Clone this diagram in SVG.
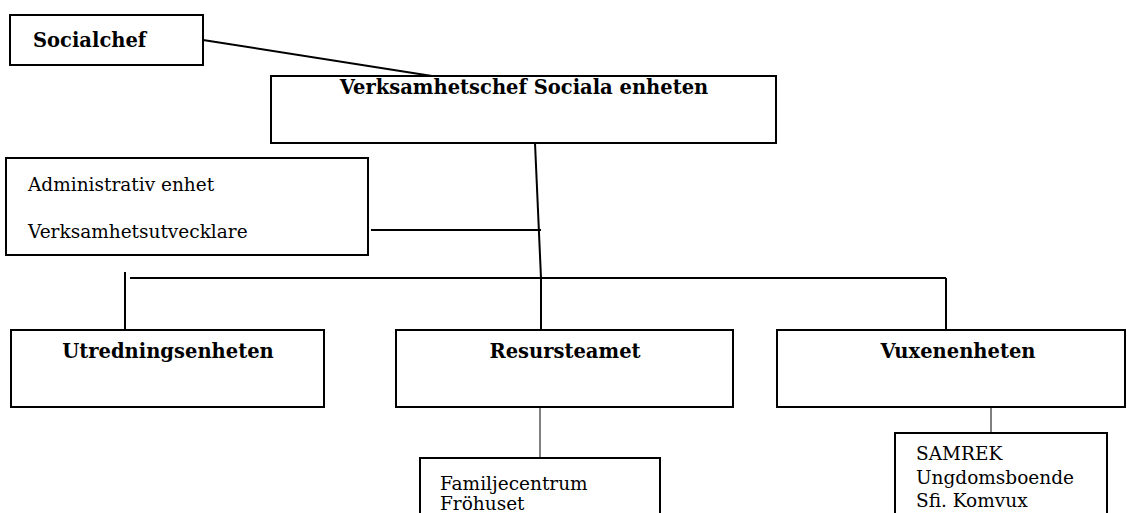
<svg xmlns="http://www.w3.org/2000/svg" width="1127" height="513" viewBox="0 0 1127 513">
<style>
.box{fill:#fff;stroke:#000;stroke-width:2}
.ln{stroke:#000;stroke-width:2;fill:none}
.thin{stroke:#000;stroke-width:1;fill:none}
.b{font-family:"DejaVu Serif","Liberation Serif",serif;font-weight:bold;font-size:19.5px;fill:#000}
.t{font-family:"DejaVu Serif","Liberation Serif",serif;font-size:18.5px;fill:#000}
</style>
<rect width="1127" height="513" fill="#fff"/>
<g id="connectors">
<line class="ln" x1="203" y1="40" x2="432" y2="76"/>
<line class="ln" x1="535" y1="143" x2="541" y2="278"/>
<line class="ln" x1="371" y1="230" x2="541" y2="230"/>
<line class="ln" x1="130" y1="278" x2="946" y2="278"/>
<line class="ln" x1="125" y1="272" x2="125" y2="330"/>
<line class="ln" x1="541" y1="278" x2="541" y2="330"/>
<line class="ln" x1="946" y1="278" x2="946" y2="330"/>
<line class="thin" x1="540" y1="407" x2="540" y2="458"/>
<line class="thin" x1="991" y1="407" x2="991" y2="433"/>
</g>
<g id="socialchef">
<rect class="box" x="10" y="15" width="193" height="50"/>
<text class="b" x="33" y="47">Socialchef</text>
</g>
<g id="verksamhetschef">
<rect class="box" x="271" y="76" width="505" height="67"/>
<text class="b" x="524" y="94" text-anchor="middle">Verksamhetschef Sociala enheten</text>
</g>
<g id="admin">
<rect class="box" x="6" y="158" width="362" height="97"/>
<text class="t" x="28" y="191">Administrativ enhet</text>
<text class="t" x="28" y="238">Verksamhetsutvecklare</text>
</g>
<g id="utredning">
<rect class="box" x="11" y="330" width="313" height="77"/>
<text class="b" x="168" y="358" text-anchor="middle">Utredningsenheten</text>
</g>
<g id="resurs">
<rect class="box" x="396" y="330" width="337" height="77"/>
<text class="b" x="565" y="358" text-anchor="middle">Resursteamet</text>
</g>
<g id="vuxen">
<rect class="box" x="777" y="330" width="348" height="77"/>
<text class="b" x="958" y="358" text-anchor="middle">Vuxenenheten</text>
</g>
<g id="familjecentrum">
<rect class="box" x="420" y="458" width="240" height="70"/>
<text class="t" x="440" y="490">Familjecentrum</text>
<text class="t" x="440" y="510">Fröhuset</text>
</g>
<g id="samrek">
<rect class="box" x="895" y="433" width="212" height="95"/>
<text class="t" x="916" y="460">SAMREK</text>
<text class="t" x="916" y="484">Ungdomsboende</text>
<text class="t" x="916" y="507">Sfi. Komvux</text>
</g>
</svg>
